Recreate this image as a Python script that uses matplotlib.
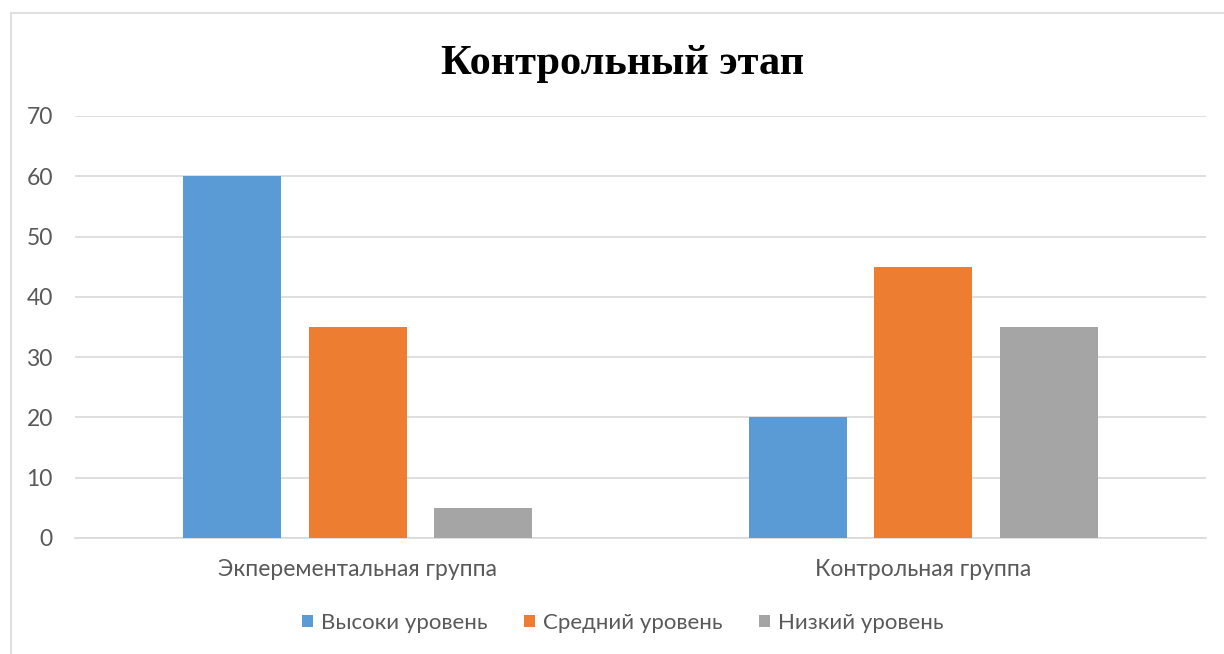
import numpy as np
import matplotlib.pyplot as plt
from matplotlib.patches import Rectangle

groups = ["Экперементальная группа", "Контрольная группа"]
series = ["Высоки уровень", "Средний уровень", "Низкий уровень"]
high = [60, 20]
mid = [35, 45]
low = [5, 35]
colors = ["#5B9BD5", "#ED7D31", "#A5A5A5"]

plt.rcParams["font.family"] = ["Lato", "DejaVu Sans"]

fig = plt.figure(figsize=(12.24, 6.54), dpi=100)
ax = fig.add_axes([75 / 1224, 1 - 538 / 654, (1206 - 75) / 1224, (538 - 116) / 654])

# chart border
fig.patches.append(Rectangle((11 / 1224, -0.05), 1.1, 1 - 13 / 654 + 0.05,
                             transform=fig.transFigure, fill=False,
                             edgecolor="#D9D9D9", linewidth=1.2))

x = np.arange(len(groups))
width = 0.173
step = 0.222
for i, (vals, name) in enumerate(zip([high, mid, low], series)):
    ax.bar(x + (i - 1) * step, vals, width, color=colors[i], label=name, zorder=3)

ax.set_xlim(-0.5, 1.5)
ax.set_ylim(0, 70)
ax.set_yticks(range(0, 71, 10))
ax.set_xticks(x)
ax.set_xticklabels(groups)
ax.grid(axis="y", color="#D9D9D9", linewidth=1.2, zorder=0)
for s in ["top", "right", "left"]:
    ax.spines[s].set_visible(False)
ax.spines["bottom"].set_color("#D9D9D9")
ax.spines["bottom"].set_linewidth(1.2)
ax.tick_params(axis="both", length=0, labelsize=16.5, labelcolor="#595959")
ax.tick_params(axis="y", pad=16)
ax.tick_params(axis="x", pad=15)

fig.text(623 / 1224, 1 - 64 / 654, "Контрольный этап", ha="center", va="center",
         fontsize=30.5, fontweight="bold", family="Liberation Serif")

fig.legend(loc="center", bbox_to_anchor=(623 / 1224, 1 - 623 / 654), ncol=3,
           frameon=False, fontsize=16, labelcolor="#595959", handlelength=0.5,
           handleheight=0.5, handletextpad=0.35, columnspacing=1.65)

plt.savefig("out.png", dpi=100)
